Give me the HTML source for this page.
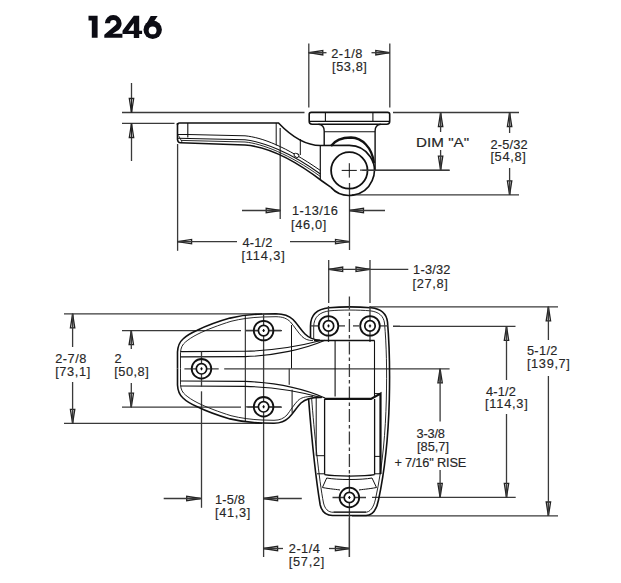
<!DOCTYPE html>
<html><head><meta charset="utf-8"><style>
html,body{margin:0;padding:0;background:#fff;}
svg{display:block;}
</style></head><body>
<svg width="621" height="583" viewBox="0 0 621 583" stroke-linecap="butt">
<rect width="621" height="583" fill="#fff"/>
<line x1="122" y1="112.5" x2="304.5" y2="112.5" stroke="#3a3a3a" stroke-width="1.3" />
<line x1="393" y1="112.5" x2="519" y2="112.5" stroke="#3a3a3a" stroke-width="1.3" />
<line x1="122" y1="123.3" x2="174.5" y2="123.3" stroke="#3a3a3a" stroke-width="1.3" />
<line x1="131.5" y1="83" x2="131.5" y2="112.5" stroke="#3a3a3a" stroke-width="1.3" />
<path d="M131.50,112.50 L129.30,98.50 L133.70,98.50 Z" stroke="#222" stroke-width="1.3" fill="#fff" stroke-linejoin="miter"/>
<line x1="131.50" y1="112.50" x2="131.50" y2="98.50" stroke="#222" stroke-width="1.3" />
<line x1="131.5" y1="123.5" x2="131.5" y2="161" stroke="#3a3a3a" stroke-width="1.3" />
<path d="M131.50,123.50 L133.70,137.50 L129.30,137.50 Z" stroke="#222" stroke-width="1.3" fill="#fff" stroke-linejoin="miter"/>
<line x1="131.50" y1="123.50" x2="131.50" y2="137.50" stroke="#222" stroke-width="1.3" />
<line x1="308.8" y1="43.5" x2="308.8" y2="107.6" stroke="#3a3a3a" stroke-width="1.3" />
<line x1="389.8" y1="43.5" x2="389.8" y2="107.6" stroke="#3a3a3a" stroke-width="1.3" />
<path d="M308.80,52.70 L322.80,50.50 L322.80,54.90 Z" stroke="#222" stroke-width="1.3" fill="#fff" stroke-linejoin="miter"/>
<line x1="308.80" y1="52.70" x2="322.80" y2="52.70" stroke="#222" stroke-width="1.3" />
<line x1="308.8" y1="52.7" x2="326.5" y2="52.7" stroke="#3a3a3a" stroke-width="1.3" />
<path d="M389.80,52.70 L375.80,54.90 L375.80,50.50 Z" stroke="#222" stroke-width="1.3" fill="#fff" stroke-linejoin="miter"/>
<line x1="389.80" y1="52.70" x2="375.80" y2="52.70" stroke="#222" stroke-width="1.3" />
<line x1="371.5" y1="52.7" x2="389.8" y2="52.7" stroke="#3a3a3a" stroke-width="1.3" />
<line x1="449.6" y1="170.1" x2="360" y2="170.1" stroke="#3a3a3a" stroke-width="1.3" />
<path d="M440.60,112.50 L442.80,126.50 L438.40,126.50 Z" stroke="#222" stroke-width="1.3" fill="#fff" stroke-linejoin="miter"/>
<line x1="440.60" y1="112.50" x2="440.60" y2="126.50" stroke="#222" stroke-width="1.3" />
<line x1="440.6" y1="112.5" x2="440.6" y2="132" stroke="#3a3a3a" stroke-width="1.3" />
<path d="M440.60,170.10 L438.40,156.10 L442.80,156.10 Z" stroke="#222" stroke-width="1.3" fill="#fff" stroke-linejoin="miter"/>
<line x1="440.60" y1="170.10" x2="440.60" y2="156.10" stroke="#222" stroke-width="1.3" />
<line x1="440.6" y1="150" x2="440.6" y2="170.1" stroke="#3a3a3a" stroke-width="1.3" />
<line x1="352" y1="194.8" x2="519" y2="194.8" stroke="#3a3a3a" stroke-width="1.3" />
<path d="M509.60,112.50 L511.80,126.50 L507.40,126.50 Z" stroke="#222" stroke-width="1.3" fill="#fff" stroke-linejoin="miter"/>
<line x1="509.60" y1="112.50" x2="509.60" y2="126.50" stroke="#222" stroke-width="1.3" />
<line x1="509.6" y1="112.5" x2="509.6" y2="133" stroke="#3a3a3a" stroke-width="1.3" />
<path d="M509.60,194.80 L507.40,180.80 L511.80,180.80 Z" stroke="#222" stroke-width="1.3" fill="#fff" stroke-linejoin="miter"/>
<line x1="509.60" y1="194.80" x2="509.60" y2="180.80" stroke="#222" stroke-width="1.3" />
<line x1="509.6" y1="168" x2="509.6" y2="194.8" stroke="#3a3a3a" stroke-width="1.3" />
<line x1="280.2" y1="128" x2="280.2" y2="219" stroke="#3a3a3a" stroke-width="1.3" />
<line x1="349.5" y1="183" x2="349.5" y2="250" stroke="#3a3a3a" stroke-width="1.3" />
<path d="M280.20,210.50 L266.20,212.70 L266.20,208.30 Z" stroke="#222" stroke-width="1.3" fill="#fff" stroke-linejoin="miter"/>
<line x1="280.20" y1="210.50" x2="266.20" y2="210.50" stroke="#222" stroke-width="1.3" />
<line x1="242" y1="210.5" x2="280.2" y2="210.5" stroke="#3a3a3a" stroke-width="1.3" />
<path d="M349.50,210.50 L363.50,208.30 L363.50,212.70 Z" stroke="#222" stroke-width="1.3" fill="#fff" stroke-linejoin="miter"/>
<line x1="349.50" y1="210.50" x2="363.50" y2="210.50" stroke="#222" stroke-width="1.3" />
<line x1="349.5" y1="210.5" x2="385" y2="210.5" stroke="#3a3a3a" stroke-width="1.3" />
<line x1="177.6" y1="144" x2="177.6" y2="250.8" stroke="#3a3a3a" stroke-width="1.3" />
<path d="M177.60,241.60 L191.60,239.40 L191.60,243.80 Z" stroke="#222" stroke-width="1.3" fill="#fff" stroke-linejoin="miter"/>
<line x1="177.60" y1="241.60" x2="191.60" y2="241.60" stroke="#222" stroke-width="1.3" />
<line x1="177.6" y1="241.6" x2="237" y2="241.6" stroke="#3a3a3a" stroke-width="1.3" />
<path d="M349.50,241.60 L335.50,243.80 L335.50,239.40 Z" stroke="#222" stroke-width="1.3" fill="#fff" stroke-linejoin="miter"/>
<line x1="349.50" y1="241.60" x2="335.50" y2="241.60" stroke="#222" stroke-width="1.3" />
<line x1="290" y1="241.6" x2="349.5" y2="241.6" stroke="#3a3a3a" stroke-width="1.3" />
<path d="M177.5,125 Q177.5,123 179.5,123 L278.5,123 C290,135 305,145.5 320.4,145.5 L349.3,145.4 A25,25 0 1 1 330.7,187.1" stroke="#111" stroke-width="1.6" fill="none" />
<path d="M177.5,123 L177.5,139.5 Q177.8,142.8 180.5,142.8 L245,145 C265,146.5 292,158 322,181 L330.7,187.1" stroke="#111" stroke-width="1.6" fill="none" />
<line x1="187.8" y1="123" x2="187.8" y2="137.5" stroke="#111" stroke-width="1.1" />
<path d="M178,134.5 L188,134.5 L245,135.8 C262,137.5 285,146 320.4,170.5" stroke="#111" stroke-width="1" fill="none" />
<path d="M178,138.3 L245,139.8 C262,141.5 290,152 320.4,174" stroke="#111" stroke-width="1.1" fill="none" />
<path d="M181,140.4 L245,142 C262,143.5 290,154.5 320.4,176.5" stroke="#111" stroke-width="0.9" fill="none" />
<path d="M178.5,135.5 L182,142" stroke="#111" stroke-width="0.8" fill="none" />
<line x1="276.2" y1="123" x2="276.2" y2="145.5" stroke="#111" stroke-width="1" />
<line x1="300.3" y1="139" x2="300.3" y2="155" stroke="#111" stroke-width="1" />
<line x1="320.3" y1="145.5" x2="320.3" y2="179" stroke="#111" stroke-width="1.2" />
<ellipse cx="296.5" cy="155.3" rx="2.6" ry="1.8" transform="rotate(30 296.5 155.3)" stroke="#111" stroke-width="0.9" fill="#fff"/>
<path d="M309.2,114.3 Q309.2,112.4 311.2,112.4 L387.7,112.4 Q389.7,112.4 389.7,114.3 L389.7,121.3 Q389.7,124.3 386.7,124.3 L312.2,124.3 Q309.2,124.3 309.2,121.3 Z" stroke="#111" stroke-width="1.6" fill="none" />
<line x1="310" y1="121.3" x2="389" y2="121.3" stroke="#111" stroke-width="1.2" />
<line x1="325.4" y1="112.4" x2="325.4" y2="121.3" stroke="#111" stroke-width="1.1" />
<line x1="372.9" y1="112.4" x2="372.9" y2="121.3" stroke="#111" stroke-width="1.1" />
<path d="M318.5,124.3 Q324.2,125 324.2,131 L324.2,146" stroke="#111" stroke-width="1.4" fill="none" />
<path d="M380.8,124.3 Q375.1,125 375.1,131 L375.1,170" stroke="#111" stroke-width="1.4" fill="none" />
<line x1="324.2" y1="131.7" x2="375.1" y2="131.7" stroke="#111" stroke-width="1.1" />
<path d="M331,146 C336,139 344,137.5 351,137.5 C362,138 372,147 374,163" stroke="#111" stroke-width="2.3" fill="none" />
<circle cx="349.3" cy="170.4" r="18.2" stroke="#111" stroke-width="1.8" fill="none"/>
<line x1="341.7" y1="170.4" x2="356.8" y2="170.4" stroke="#111" stroke-width="1" />
<line x1="362.3" y1="170.4" x2="449.6" y2="170.4" stroke="#3a3a3a" stroke-width="1.3" />
<line x1="349.3" y1="163.2" x2="349.3" y2="177.6" stroke="#111" stroke-width="1" />
<line x1="64" y1="313.8" x2="262" y2="313.8" stroke="#3a3a3a" stroke-width="1.3" />
<line x1="64" y1="423.3" x2="262" y2="423.3" stroke="#3a3a3a" stroke-width="1.3" />
<line x1="122" y1="330.7" x2="241" y2="330.7" stroke="#3a3a3a" stroke-width="1.3" />
<line x1="246" y1="330.7" x2="282" y2="330.7" stroke="#3a3a3a" stroke-width="1.3" />
<line x1="122" y1="407.2" x2="241" y2="407.2" stroke="#3a3a3a" stroke-width="1.3" />
<line x1="247.3" y1="407.2" x2="282" y2="407.2" stroke="#3a3a3a" stroke-width="1.3" />
<path d="M72.60,313.80 L74.80,327.80 L70.40,327.80 Z" stroke="#222" stroke-width="1.3" fill="#fff" stroke-linejoin="miter"/>
<line x1="72.60" y1="313.80" x2="72.60" y2="327.80" stroke="#222" stroke-width="1.3" />
<line x1="72.6" y1="313.8" x2="72.6" y2="347" stroke="#3a3a3a" stroke-width="1.3" />
<path d="M72.60,423.30 L70.40,409.30 L74.80,409.30 Z" stroke="#222" stroke-width="1.3" fill="#fff" stroke-linejoin="miter"/>
<line x1="72.60" y1="423.30" x2="72.60" y2="409.30" stroke="#222" stroke-width="1.3" />
<line x1="72.6" y1="382" x2="72.6" y2="423.3" stroke="#3a3a3a" stroke-width="1.3" />
<path d="M131.30,330.70 L133.50,344.70 L129.10,344.70 Z" stroke="#222" stroke-width="1.3" fill="#fff" stroke-linejoin="miter"/>
<line x1="131.30" y1="330.70" x2="131.30" y2="344.70" stroke="#222" stroke-width="1.3" />
<line x1="131.3" y1="330.7" x2="131.3" y2="349" stroke="#3a3a3a" stroke-width="1.3" />
<path d="M131.30,407.20 L129.10,393.20 L133.50,393.20 Z" stroke="#222" stroke-width="1.3" fill="#fff" stroke-linejoin="miter"/>
<line x1="131.30" y1="407.20" x2="131.30" y2="393.20" stroke="#222" stroke-width="1.3" />
<line x1="131.3" y1="383" x2="131.3" y2="407.2" stroke="#3a3a3a" stroke-width="1.3" />
<line x1="328.7" y1="260" x2="328.7" y2="303" stroke="#3a3a3a" stroke-width="1.3" />
<line x1="370" y1="260" x2="370" y2="303" stroke="#3a3a3a" stroke-width="1.3" />
<path d="M328.70,269.30 L342.70,267.10 L342.70,271.50 Z" stroke="#222" stroke-width="1.3" fill="#fff" stroke-linejoin="miter"/>
<line x1="328.70" y1="269.30" x2="342.70" y2="269.30" stroke="#222" stroke-width="1.3" />
<path d="M370.00,269.30 L356.00,271.50 L356.00,267.10 Z" stroke="#222" stroke-width="1.3" fill="#fff" stroke-linejoin="miter"/>
<line x1="370.00" y1="269.30" x2="356.00" y2="269.30" stroke="#222" stroke-width="1.3" />
<line x1="328.7" y1="269.3" x2="408.3" y2="269.3" stroke="#3a3a3a" stroke-width="1.3" />
<line x1="370" y1="306.8" x2="558" y2="306.8" stroke="#3a3a3a" stroke-width="1.3" />
<line x1="393" y1="326.3" x2="515.5" y2="326.3" stroke="#3a3a3a" stroke-width="1.3" />
<line x1="372" y1="497.3" x2="515.7" y2="497.3" stroke="#3a3a3a" stroke-width="1.3" />
<line x1="352" y1="515.8" x2="558" y2="515.8" stroke="#3a3a3a" stroke-width="1.3" />
<path d="M548.40,306.80 L550.60,320.80 L546.20,320.80 Z" stroke="#222" stroke-width="1.3" fill="#fff" stroke-linejoin="miter"/>
<line x1="548.40" y1="306.80" x2="548.40" y2="320.80" stroke="#222" stroke-width="1.3" />
<line x1="548.4" y1="306.8" x2="548.4" y2="340" stroke="#3a3a3a" stroke-width="1.3" />
<path d="M548.40,516.00 L546.20,502.00 L550.60,502.00 Z" stroke="#222" stroke-width="1.3" fill="#fff" stroke-linejoin="miter"/>
<line x1="548.40" y1="516.00" x2="548.40" y2="502.00" stroke="#222" stroke-width="1.3" />
<line x1="548.4" y1="376" x2="548.4" y2="516" stroke="#3a3a3a" stroke-width="1.3" />
<path d="M506.50,326.40 L508.70,340.40 L504.30,340.40 Z" stroke="#222" stroke-width="1.3" fill="#fff" stroke-linejoin="miter"/>
<line x1="506.50" y1="326.40" x2="506.50" y2="340.40" stroke="#222" stroke-width="1.3" />
<line x1="506.5" y1="326.4" x2="506.5" y2="380" stroke="#3a3a3a" stroke-width="1.3" />
<path d="M506.50,497.30 L504.30,483.30 L508.70,483.30 Z" stroke="#222" stroke-width="1.3" fill="#fff" stroke-linejoin="miter"/>
<line x1="506.50" y1="497.30" x2="506.50" y2="483.30" stroke="#222" stroke-width="1.3" />
<line x1="506.5" y1="414" x2="506.5" y2="497.3" stroke="#3a3a3a" stroke-width="1.3" />
<path d="M440.10,368.80 L442.30,382.80 L437.90,382.80 Z" stroke="#222" stroke-width="1.3" fill="#fff" stroke-linejoin="miter"/>
<line x1="440.10" y1="368.80" x2="440.10" y2="382.80" stroke="#222" stroke-width="1.3" />
<line x1="440.1" y1="368.8" x2="440.1" y2="421.5" stroke="#3a3a3a" stroke-width="1.3" />
<path d="M440.10,497.30 L437.90,483.30 L442.30,483.30 Z" stroke="#222" stroke-width="1.3" fill="#fff" stroke-linejoin="miter"/>
<line x1="440.10" y1="497.30" x2="440.10" y2="483.30" stroke="#222" stroke-width="1.3" />
<line x1="440.1" y1="470" x2="440.1" y2="497.3" stroke="#3a3a3a" stroke-width="1.3" />
<line x1="201.5" y1="391.3" x2="201.5" y2="507.8" stroke="#3a3a3a" stroke-width="1.3" />
<line x1="263.6" y1="348" x2="263.6" y2="557" stroke="#3a3a3a" stroke-width="1.3" />
<path d="M200.70,498.50 L186.70,500.70 L186.70,496.30 Z" stroke="#222" stroke-width="1.3" fill="#fff" stroke-linejoin="miter"/>
<line x1="200.70" y1="498.50" x2="186.70" y2="498.50" stroke="#222" stroke-width="1.3" />
<line x1="163.7" y1="498.5" x2="200.7" y2="498.5" stroke="#3a3a3a" stroke-width="1.3" />
<path d="M263.60,498.50 L277.60,496.30 L277.60,500.70 Z" stroke="#222" stroke-width="1.3" fill="#fff" stroke-linejoin="miter"/>
<line x1="263.60" y1="498.50" x2="277.60" y2="498.50" stroke="#222" stroke-width="1.3" />
<line x1="263.6" y1="498.5" x2="301.8" y2="498.5" stroke="#3a3a3a" stroke-width="1.3" />
<line x1="349.4" y1="518" x2="349.4" y2="557" stroke="#3a3a3a" stroke-width="1.3" />
<path d="M263.60,548.50 L277.60,546.30 L277.60,550.70 Z" stroke="#222" stroke-width="1.3" fill="#fff" stroke-linejoin="miter"/>
<line x1="263.60" y1="548.50" x2="277.60" y2="548.50" stroke="#222" stroke-width="1.3" />
<line x1="263.6" y1="548.5" x2="283" y2="548.5" stroke="#3a3a3a" stroke-width="1.3" />
<path d="M349.40,548.50 L335.40,550.70 L335.40,546.30 Z" stroke="#222" stroke-width="1.3" fill="#fff" stroke-linejoin="miter"/>
<line x1="349.40" y1="548.50" x2="335.40" y2="548.50" stroke="#222" stroke-width="1.3" />
<line x1="329" y1="548.5" x2="349.4" y2="548.5" stroke="#3a3a3a" stroke-width="1.3" />
<g><path d="M177.5,368.5 L177.5,352 C177.8,346 179.5,342 183,339 C186,336 190,333.5 196.7,330.5 C205,326.5 218,321.5 230,318.1 C240,315.6 250,314.3 262,314 L276,313.7 C284,313.8 289,315.5 293,319.5 C297,323.5 301,330 305,334 C309,338 313,339.8 320,340.3" stroke="#111" stroke-width="1.6" fill="none"/>
<path d="M180.5,368.5 L180.5,352.5 C180.8,347.5 182.5,344.5 185.5,342 C188.5,339.5 192,337 198,334 C206,330 219,325 231,321.3 C241,318.8 251,317.5 262,317 L276,316.7 C283,316.8 287,318.5 290.5,322 C294,326 298,332.5 302,336.5 C305,339.3 308,340.5 313,340.6" stroke="#111" stroke-width="0.9" fill="none"/>
<path d="M180.5,351.6 L245,351.3 C275,350.5 300,346 321,340.5" stroke="#111" stroke-width="1.1" fill="none"/>
<path d="M180.5,356.9 L245,356.6 C275,355.8 305,349 325,340.3" stroke="#111" stroke-width="1.1" fill="none"/>
<line x1="291.5" y1="325" x2="291.5" y2="368.5" stroke="#111" stroke-width="1"/></g>
<g transform="translate(0,737) scale(1,-1)"><path d="M177.5,368.5 L177.5,352 C177.8,346 179.5,342 183,339 C186,336 190,333.5 196.7,330.5 C205,326.5 218,321.5 230,318.1 C240,315.6 250,314.3 262,314 L274,313.7 C281,313.8 285,315.5 289,319.5 C293,323.5 297,330 301,334 C305,337.5 310,339.8 321,339.6" stroke="#111" stroke-width="1.6" fill="none"/>
<path d="M180.5,368.5 L180.5,352.5 C180.8,347.5 182.5,344.5 185.5,342 C188.5,339.5 192,337 198,334 C206,330 219,325 231,321.3 C241,318.8 251,317.5 262,317 L274,316.7 C280,316.8 283.5,318.5 287,322 C290,326 294,332.5 298,336.5 C301,339.3 305,340.5 313,340.6" stroke="#111" stroke-width="0.9" fill="none"/>
<path d="M180.5,351 L245,350.6 C275,350 300,345.5 322,339.2" stroke="#111" stroke-width="1.1" fill="none"/>
<path d="M180.5,356 L245,355.6 C272,354.5 300,350 325,339" stroke="#111" stroke-width="1.1" fill="none"/>
<line x1="289.2" y1="352.2" x2="289.2" y2="368.5" stroke="#111" stroke-width="1"/>
<line x1="292.1" y1="324.2" x2="292.1" y2="347.3" stroke="#111" stroke-width="1"/></g>
<line x1="245.3" y1="315.5" x2="245.3" y2="421.5" stroke="#111" stroke-width="1" />
<line x1="184.4" y1="368.8" x2="218.7" y2="368.8" stroke="#3a3a3a" stroke-width="1.3" />
<line x1="224.2" y1="368.8" x2="449.6" y2="368.8" stroke="#3a3a3a" stroke-width="1.3" />
<line x1="201.5" y1="351.6" x2="201.5" y2="386.8" stroke="#3a3a3a" stroke-width="1.3" />
<line x1="245.5" y1="330.5" x2="281" y2="330.5" stroke="#3a3a3a" stroke-width="1.3" />
<line x1="263.6" y1="313.7" x2="263.6" y2="348" stroke="#3a3a3a" stroke-width="1.3" />
<line x1="245.5" y1="406.8" x2="281" y2="406.8" stroke="#3a3a3a" stroke-width="1.3" />
<path d="M310.5,337.4 L310.5,326 C310.5,315 317,309 329,307.8 C340,306.8 359,306.8 371,307.8 C381,308.8 386.5,314 387.5,322 C389.5,345 390,370 389.3,400 C388.5,430 386,465 378.5,500 C376.5,510 372,515.5 366,515.5 L332.5,515.5 C326,515.5 322,512 320.2,505 C316,480 311,430 308.5,398" stroke="#111" stroke-width="1.6" fill="none" />
<path d="M313.7,339 L313.7,327 C313.7,317 319.5,312 330,310.8 C340,309.8 359,309.8 370,310.8 C379,311.8 383.5,316 384.5,323 C386.5,345 387,370 386.3,400 C385.5,430 383,465 375.5,499 C373.5,508 370,512.3 365,512.3 L333.5,512.3 C328,512.3 325,509 323.5,503 C319,480 314,430 311.6,398" stroke="#111" stroke-width="0.9" fill="none" />
<line x1="310.5" y1="325.9" x2="318" y2="325.9" stroke="#3a3a3a" stroke-width="1.3" />
<line x1="339" y1="325.9" x2="345" y2="325.9" stroke="#3a3a3a" stroke-width="1.3" />
<line x1="353" y1="325.9" x2="359" y2="325.9" stroke="#3a3a3a" stroke-width="1.3" />
<line x1="380" y1="325.9" x2="388" y2="325.9" stroke="#3a3a3a" stroke-width="1.3" />
<line x1="393" y1="326.3" x2="400" y2="326.3" stroke="#3a3a3a" stroke-width="1.3" />
<line x1="328.5" y1="306" x2="328.5" y2="342" stroke="#3a3a3a" stroke-width="1.3" />
<line x1="370" y1="306" x2="370" y2="342" stroke="#3a3a3a" stroke-width="1.3" />
<line x1="332.5" y1="497.5" x2="366" y2="497.5" stroke="#3a3a3a" stroke-width="1.3" />
<line x1="349.4" y1="475" x2="349.4" y2="557" stroke="#3a3a3a" stroke-width="1.3" />
<line x1="349.4" y1="296.4" x2="349.4" y2="475" stroke="#3a3a3a" stroke-width="1.3" stroke-dasharray="13,3,3.5,3"/>
<line x1="314" y1="340.5" x2="374.6" y2="340.5" stroke="#111" stroke-width="1.5" />
<line x1="335.1" y1="340.5" x2="335.1" y2="396.6" stroke="#111" stroke-width="1.1" />
<line x1="374.5" y1="340.5" x2="374.5" y2="396.6" stroke="#111" stroke-width="1.1" />
<path d="M324.5,398.9 L371,398.9 L380.5,393.6 L380.5,474" stroke="#111" stroke-width="2.2" fill="none" />
<line x1="374.6" y1="393.6" x2="380.5" y2="393.6" stroke="#111" stroke-width="1" />
<line x1="324.6" y1="399" x2="324.6" y2="474.6" stroke="#111" stroke-width="1.3" />
<line x1="374.6" y1="399" x2="374.6" y2="474.6" stroke="#111" stroke-width="1.3" />
<path d="M324.6,474.6 C335,476.5 365,476.5 374.6,474.6" stroke="#111" stroke-width="1.3" fill="none" />
<path d="M326.7,478 C337,480 362,480 372,478" stroke="#111" stroke-width="1.0" fill="none" />
<line x1="316.2" y1="398" x2="316.2" y2="455.7" stroke="#111" stroke-width="1" />
<line x1="316.2" y1="455.7" x2="324.6" y2="455.7" stroke="#111" stroke-width="1" />
<line x1="374.6" y1="456.4" x2="381" y2="456.4" stroke="#111" stroke-width="1" />
<line x1="317" y1="473.8" x2="324.6" y2="473.8" stroke="#111" stroke-width="1" />
<line x1="374.6" y1="473.8" x2="381" y2="473.8" stroke="#111" stroke-width="1" />
<path d="M326.7,478 L322.4,487.5 C330,489 338,489.5 340,490" stroke="#111" stroke-width="1" fill="none" />
<path d="M372,478 L376.5,487.5 C369,489 361,489.5 359,490" stroke="#111" stroke-width="1" fill="none" />
<line x1="333.5" y1="512" x2="366" y2="512" stroke="#111" stroke-width="1" />
<circle cx="201.5" cy="368.8" r="9.8" stroke="#111" stroke-width="1.8" fill="none"/>
<circle cx="201.5" cy="368.8" r="5.2" stroke="#111" stroke-width="1.7" fill="#fff"/>
<line x1="200.3" y1="368.8" x2="202.7" y2="368.8" stroke="#111" stroke-width="1.0" />
<line x1="201.5" y1="367.3" x2="201.5" y2="370.3" stroke="#111" stroke-width="1.2" />
<circle cx="263.6" cy="330.6" r="9.8" stroke="#111" stroke-width="1.8" fill="none"/>
<circle cx="263.6" cy="330.6" r="5.2" stroke="#111" stroke-width="1.7" fill="#fff"/>
<line x1="262.40000000000003" y1="330.6" x2="264.8" y2="330.6" stroke="#111" stroke-width="1.0" />
<line x1="263.6" y1="329.1" x2="263.6" y2="332.1" stroke="#111" stroke-width="1.2" />
<circle cx="263.6" cy="406.8" r="9.8" stroke="#111" stroke-width="1.8" fill="none"/>
<circle cx="263.6" cy="406.8" r="5.2" stroke="#111" stroke-width="1.7" fill="#fff"/>
<line x1="262.40000000000003" y1="406.8" x2="264.8" y2="406.8" stroke="#111" stroke-width="1.0" />
<line x1="263.6" y1="405.3" x2="263.6" y2="408.3" stroke="#111" stroke-width="1.2" />
<circle cx="328.5" cy="325.9" r="9.8" stroke="#111" stroke-width="1.8" fill="none"/>
<circle cx="328.5" cy="325.9" r="5.2" stroke="#111" stroke-width="1.7" fill="#fff"/>
<line x1="327.3" y1="325.9" x2="329.7" y2="325.9" stroke="#111" stroke-width="1.0" />
<line x1="328.5" y1="324.4" x2="328.5" y2="327.4" stroke="#111" stroke-width="1.2" />
<circle cx="370" cy="325.9" r="9.8" stroke="#111" stroke-width="1.8" fill="none"/>
<circle cx="370" cy="325.9" r="5.2" stroke="#111" stroke-width="1.7" fill="#fff"/>
<line x1="368.8" y1="325.9" x2="371.2" y2="325.9" stroke="#111" stroke-width="1.0" />
<line x1="370" y1="324.4" x2="370" y2="327.4" stroke="#111" stroke-width="1.2" />
<circle cx="349.4" cy="497.5" r="9.8" stroke="#111" stroke-width="1.8" fill="none"/>
<circle cx="349.4" cy="497.5" r="5.2" stroke="#111" stroke-width="1.7" fill="#fff"/>
<line x1="348.2" y1="497.5" x2="350.59999999999997" y2="497.5" stroke="#111" stroke-width="1.0" />
<line x1="349.4" y1="496.0" x2="349.4" y2="499.0" stroke="#111" stroke-width="1.2" />
<path d="M88.5,15.8 L97.6,15.8 L97.6,37.7 L91.8,37.7 L91.8,20.5 L88.5,20.5 Z" fill="#0c0c14"/>
<path d="M104.9,23.3 A8.3,8.3 0 0 1 121.6,23.3 C121.6,26 120.5,28 118.5,30 L112.5,33.8 L122.4,33.8 L122.4,37.7 L104.3,37.7 L104.3,34.8 L114.5,26 C115.8,24.9 116.5,24.2 116.5,23.3 A3.2,3.2 0 0 0 110.1,23.3 Z" fill="#0c0c14"/>
<path d="M133.8,15.8 L139.2,15.8 L139.2,30.7 L142.1,30.7 L142.1,33.9 L139.2,33.9 L139.2,37.9 L133.8,37.9 L133.8,33.9 L122.5,33.9 L122.5,30.7 Z M128.3,30.7 L133.8,30.7 L133.8,23 Z" fill="#0c0c14" fill-rule="evenodd"/>
<path d="M150.7,15.9 L157.6,15.9 L152,24.5 L144.3,27.5 Z" fill="#0c0c14"/>
<circle cx="152.7" cy="29.7" r="9.2" fill="#0c0c14"/>
<circle cx="152.6" cy="30.4" r="3.9" fill="#fff"/>
<text x="331.2" y="58.1" font-family="Liberation Sans" font-size="12.8" fill="#262626" text-anchor="start" letter-spacing="0.53" stroke="#262626" stroke-width="0.15">2-1/8</text>
<text x="332.0" y="70.8" font-family="Liberation Sans" font-size="12.8" fill="#262626" text-anchor="start" letter-spacing="0.58" stroke="#262626" stroke-width="0.15">[53,8]</text>
<text x="416.1" y="146.85" font-family="Liberation Sans" font-size="12.8" fill="#262626" text-anchor="start" textLength="53" lengthAdjust="spacingAndGlyphs" stroke="#262626" stroke-width="0.15">DIM &quot;A&quot;</text>
<text x="490.4" y="149.35" font-family="Liberation Sans" font-size="12.8" fill="#262626" text-anchor="start" letter-spacing="0.2" stroke="#262626" stroke-width="0.15">2-5/32</text>
<text x="490.4" y="160.95" font-family="Liberation Sans" font-size="12.8" fill="#262626" text-anchor="start" letter-spacing="0.66" stroke="#262626" stroke-width="0.15">[54,8]</text>
<text x="292.1" y="215.1" font-family="Liberation Sans" font-size="12.8" fill="#262626" text-anchor="start" letter-spacing="0.38" stroke="#262626" stroke-width="0.15">1-13/16</text>
<text x="291.0" y="228.65" font-family="Liberation Sans" font-size="12.8" fill="#262626" text-anchor="start" letter-spacing="0.66" stroke="#262626" stroke-width="0.15">[46,0]</text>
<text x="242.4" y="247.0" font-family="Liberation Sans" font-size="12.8" fill="#262626" text-anchor="start" letter-spacing="0.2" stroke="#262626" stroke-width="0.15">4-1/2</text>
<text x="241.4" y="259.9" font-family="Liberation Sans" font-size="12.8" fill="#262626" text-anchor="start" letter-spacing="0.88" stroke="#262626" stroke-width="0.15">[114,3]</text>
<text x="413.1" y="273.75" font-family="Liberation Sans" font-size="12.8" fill="#262626" text-anchor="start" letter-spacing="0.22" stroke="#262626" stroke-width="0.15">1-3/32</text>
<text x="412.5" y="287.8" font-family="Liberation Sans" font-size="12.8" fill="#262626" text-anchor="start" letter-spacing="0.66" stroke="#262626" stroke-width="0.15">[27,8]</text>
<text x="55.2" y="363.2" font-family="Liberation Sans" font-size="12.8" fill="#262626" text-anchor="start" letter-spacing="0.52" stroke="#262626" stroke-width="0.15">2-7/8</text>
<text x="55.2" y="375.5" font-family="Liberation Sans" font-size="12.8" fill="#262626" text-anchor="start" letter-spacing="0.62" stroke="#262626" stroke-width="0.15">[73,1]</text>
<text x="114.5" y="363.2" font-family="Liberation Sans" font-size="12.8" fill="#262626" text-anchor="start" letter-spacing="0.0" stroke="#262626" stroke-width="0.15">2</text>
<text x="114.2" y="376.3" font-family="Liberation Sans" font-size="12.8" fill="#262626" text-anchor="start" letter-spacing="0.52" stroke="#262626" stroke-width="0.15">[50,8]</text>
<text x="526.9" y="355.4" font-family="Liberation Sans" font-size="12.8" fill="#262626" text-anchor="start" letter-spacing="0.35" stroke="#262626" stroke-width="0.15">5-1/2</text>
<text x="526.9" y="367.6" font-family="Liberation Sans" font-size="12.8" fill="#262626" text-anchor="start" letter-spacing="0.65" stroke="#262626" stroke-width="0.15">[139,7]</text>
<text x="486.0" y="396.15" font-family="Liberation Sans" font-size="12.8" fill="#262626" text-anchor="start" letter-spacing="0.15" stroke="#262626" stroke-width="0.15">4-1/2</text>
<text x="485.0" y="408.05" font-family="Liberation Sans" font-size="12.8" fill="#262626" text-anchor="start" letter-spacing="0.77" stroke="#262626" stroke-width="0.15">[114,3]</text>
<text x="416.6" y="438.3" font-family="Liberation Sans" font-size="12.8" fill="#262626" text-anchor="start" letter-spacing="-0.23" stroke="#262626" stroke-width="0.15">3-3/8</text>
<text x="417.0" y="451.4" font-family="Liberation Sans" font-size="12.8" fill="#262626" text-anchor="start" letter-spacing="0.0" stroke="#262626" stroke-width="0.15">[85,7]</text>
<text x="394.4" y="467.05" font-family="Liberation Sans" font-size="12.8" fill="#262626" text-anchor="start" letter-spacing="-0.18" stroke="#262626" stroke-width="0.15">+ 7/16&quot; RISE</text>
<text x="214.9" y="503.9" font-family="Liberation Sans" font-size="12.8" fill="#262626" text-anchor="start" letter-spacing="0.23" stroke="#262626" stroke-width="0.15">1-5/8</text>
<text x="214.9" y="516.55" font-family="Liberation Sans" font-size="12.8" fill="#262626" text-anchor="start" letter-spacing="0.7" stroke="#262626" stroke-width="0.15">[41,3]</text>
<text x="288.8" y="552.8" font-family="Liberation Sans" font-size="12.8" fill="#262626" text-anchor="start" letter-spacing="0.47" stroke="#262626" stroke-width="0.15">2-1/4</text>
<text x="288.8" y="566.2" font-family="Liberation Sans" font-size="12.8" fill="#262626" text-anchor="start" letter-spacing="0.7" stroke="#262626" stroke-width="0.15">[57,2]</text>
</svg>
</body></html>
